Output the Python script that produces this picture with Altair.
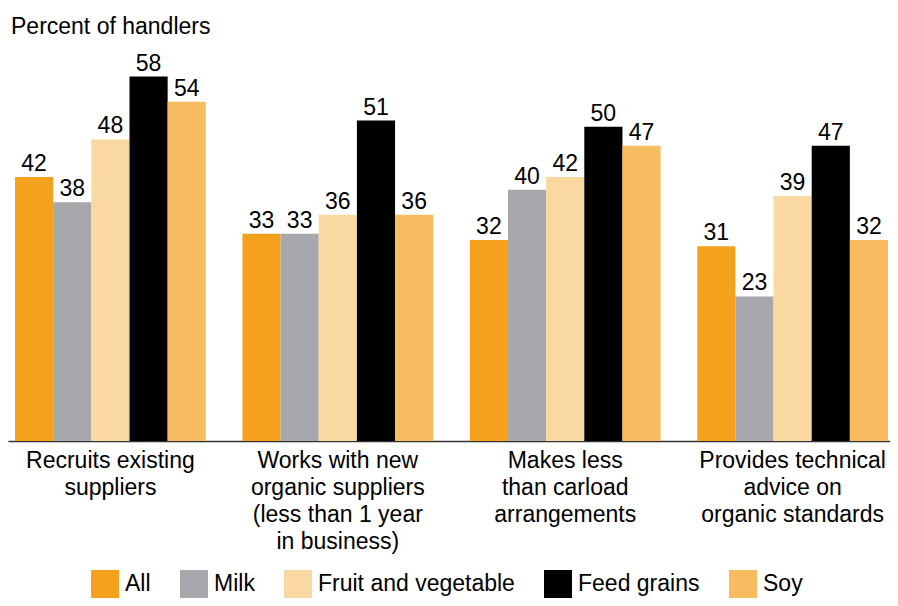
import altair as alt
import pandas as pd

categories = [
    "Recruits existing|suppliers",
    "Works with new|organic suppliers|(less than 1 year|in business)",
    "Makes less|than carload|arrangements",
    "Provides technical|advice on|organic standards",
]
series = ["All", "Milk", "Fruit and vegetable", "Feed grains", "Soy"]
colors = ["#F4A21E", "#A7A8AB", "#F9D8A1", "#000000", "#F7BC5F"]
values = {
    "All": [42, 33, 32, 31],
    "Milk": [38, 33, 40, 23],
    "Fruit and vegetable": [48, 36, 42, 39],
    "Feed grains": [58, 51, 50, 47],
    "Soy": [54, 36, 47, 32],
}

rows = []
for s in series:
    for c, v in zip(categories, values[s]):
        rows.append({"category": c, "series": s, "value": v})
df = pd.DataFrame(rows)

FONT = "Liberation Sans"
FS = 23

x_enc = alt.X(
    "category:N",
    sort=categories,
    scale=alt.Scale(paddingInner=0.161, paddingOuter=0.0198, align=0.78),
    axis=alt.Axis(
        title=None,
        labelAngle=0,
        ticks=False,
        domainColor="#333333",
        domainWidth=1.5,
        labelFont=FONT,
        labelFontSize=FS,
        labelColor="#000000",
        labelLineHeight=27,
        labelPadding=8,
        labelLimit=400,
        labelExpr="split(datum.label, '|')",
    ),
)
xo_enc = alt.XOffset("series:N", sort=series, scale=alt.Scale(paddingInner=0, paddingOuter=0))
y_enc = alt.Y("value:Q", scale=alt.Scale(domain=[0, 60], nice=False), axis=None)

base = alt.Chart(df).encode(x=x_enc, xOffset=xo_enc, y=y_enc)

bars = base.mark_bar(strokeWidth=0).encode(
    color=alt.Color(
        "series:N",
        sort=series,
        scale=alt.Scale(domain=series, range=colors),
        legend=alt.Legend(
            title=None,
            orient="none",
            direction="horizontal",
            legendX=83,
            legendY=506,
            padding=0,
            symbolType="square",
            symbolSize=784,
            symbolStrokeWidth=0,
            symbolOpacity=1,
            labelFont=FONT,
            labelFontSize=FS,
            labelColor="#000000",
            labelOffset=6,
            labelLimit=400,
            columnPadding=29,
        ),
    )
)

labels = base.mark_text(
    baseline="alphabetic", dy=-6, font=FONT, fontSize=FS, color="#000000"
).encode(text="value:Q")

chart = (
    alt.layer(bars, labels)
    .properties(
        width=882,
        height=377,
        background="white",
        autosize=alt.AutoSizeParams(type="none"),
        padding={"left": 0, "right": 0, "top": 56, "bottom": 157},
        title=alt.TitleParams(
            "Percent of handlers",
            anchor="start",
            frame="group",
            font=FONT,
            fontSize=FS,
            fontWeight="normal",
            color="#000000",
            offset=14,
            dx=3,
        ),
    )
    .configure_view(strokeWidth=0, stroke="transparent")
)

chart.save("out.html", embed_options={"renderer": "svg", "actions": False})
